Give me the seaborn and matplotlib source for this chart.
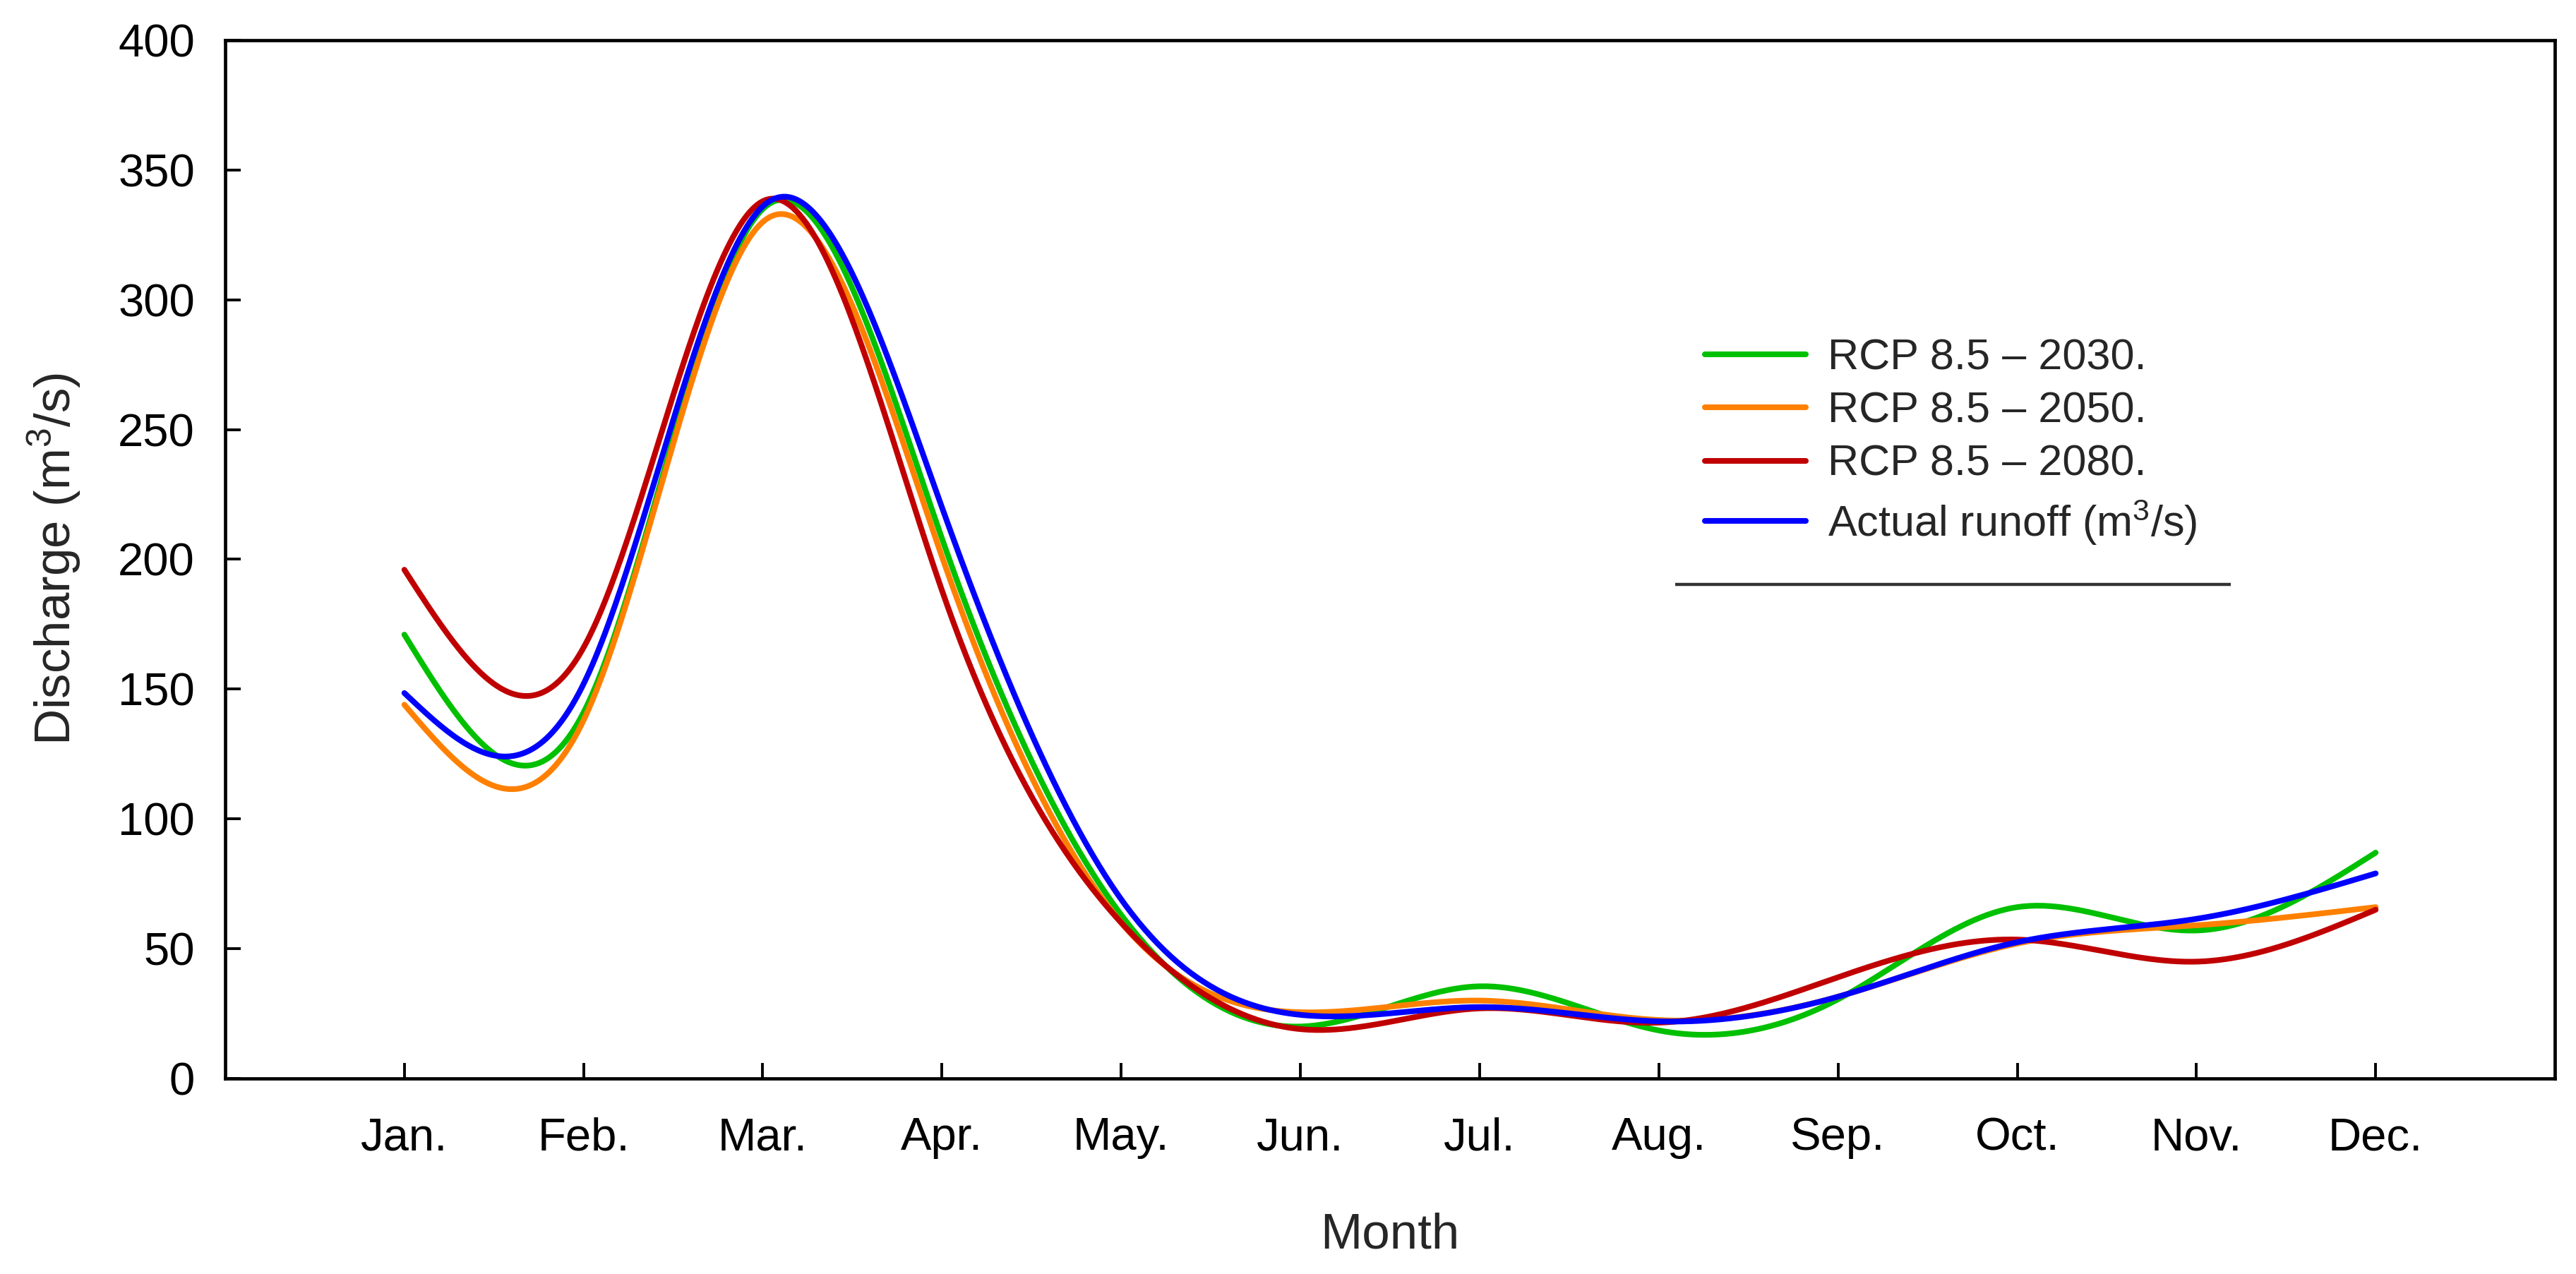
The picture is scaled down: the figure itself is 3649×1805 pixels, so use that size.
import matplotlib

matplotlib.use("Agg")
import matplotlib.pyplot as plt
import numpy as np
import pandas as pd
import seaborn as sns

# monthly mean discharge (m3/s)
months = ["Jan.", "Feb.", "Mar.", "Apr.", "May.", "Jun.",
          "Jul.", "Aug.", "Sep.", "Oct.", "Nov.", "Dec."]
rcp_2030 = [171, 141, 335, 208, 63, 20, 35.5, 18.5, 30.5, 66, 57, 87]
rcp_2050 = [144, 138, 330, 201, 60, 25.5, 30, 22.5, 31.5, 52, 59, 66]
rcp_2080 = [196, 166, 338, 188, 60, 19, 27, 21.5, 39, 53.5, 45, 65]
actual = [148.5, 152, 336, 220, 69, 24.5, 27.5, 22, 31.5, 52.5, 61.5, 79]

series_names = ["RCP 8.5 \u2013 2030.", "RCP 8.5 \u2013 2050.",
                "RCP 8.5 \u2013 2080.", "Actual runoff (m$^{3}$/s)"]
series_values = [rcp_2030, rcp_2050, rcp_2080, actual]
colors = ["#00c000", "#ff8000", "#c00000", "#0000ff"]


def natural_spline(x, y, xs):
    # plain natural cubic spline, the original chart draws a smoothed curve
    x = np.asarray(x, float)
    y = np.asarray(y, float)
    n = len(x)
    h = np.diff(x)
    A = np.zeros((n, n))
    rhs = np.zeros(n)
    A[0, 0] = A[-1, -1] = 1.0
    for i in range(1, n - 1):
        A[i, i - 1] = h[i - 1]
        A[i, i] = 2 * (h[i - 1] + h[i])
        A[i, i + 1] = h[i]
        rhs[i] = 6 * ((y[i + 1] - y[i]) / h[i] - (y[i] - y[i - 1]) / h[i - 1])
    M = np.linalg.solve(A, rhs)
    idx = np.clip(np.searchsorted(x, xs) - 1, 0, n - 2)
    x0, x1 = x[idx], x[idx + 1]
    hh = x1 - x0
    a = (x1 - xs) / hh
    b = (xs - x0) / hh
    return (a * y[idx] + b * y[idx + 1]
            + ((a ** 3 - a) * M[idx] + (b ** 3 - b) * M[idx + 1]) * hh ** 2 / 6)


month_num = np.arange(1, len(months) + 1)
xs = np.linspace(1, 12, 600)
frames = []
for name, vals in zip(series_names, series_values):
    frames.append(pd.DataFrame({"month": xs, "discharge": natural_spline(month_num, vals, xs),
                                "series": name}))
df = pd.concat(frames, ignore_index=True)

sns.set_theme(style="ticks")
plt.rcParams["font.family"] = ["Liberation Sans", "DejaVu Sans"]
plt.rcParams["mathtext.fontset"] = "custom"
plt.rcParams["mathtext.rm"] = "Liberation Sans"
plt.rcParams["mathtext.default"] = "regular"

fig = plt.figure(figsize=(18.245, 9.025), dpi=200)
ax = fig.add_axes([0.0874, 0.1535, 0.9044, 0.8149])

sns.lineplot(data=df, x="month", y="discharge", hue="series", hue_order=series_names,
             palette=colors, linewidth=2.9, sort=False, estimator=None, ax=ax)

ax.set_xlim(0, 13)
ax.set_ylim(0, 400)
ax.set_xticks(month_num)
ax.set_xticklabels(months)
ax.set_yticks(np.arange(0, 401, 50))
ax.tick_params(axis="both", direction="in", length=8, width=1.4, labelsize=23.5, colors="black")
ax.tick_params(axis="x", pad=19.5)
ax.tick_params(axis="y", pad=15.5)
for sp in ax.spines.values():
    sp.set_visible(True)
    sp.set_linewidth(1.7)
    sp.set_color("black")

ax.set_xlabel("Month", fontsize=25.5, labelpad=27)
ax.set_ylabel("Discharge (m$^{3}$/s)", fontsize=25.5, labelpad=18)

handles, labels = ax.get_legend_handles_labels()
leg = ax.legend(handles, labels, loc="center left", bbox_to_anchor=(0.635, 0.6125),
                frameon=False, fontsize=22, handlelength=2.35, handletextpad=0.5,
                labelspacing=0.3, borderpad=0, borderaxespad=0)
for line in leg.get_lines():
    line.set_linewidth(2.9)
ax.plot([0.6224, 0.861], [0.4759, 0.4759], transform=ax.transAxes, color="#333333",
        linewidth=1.6, solid_capstyle="butt")

fig.savefig("out.png", dpi=200, facecolor="white")
